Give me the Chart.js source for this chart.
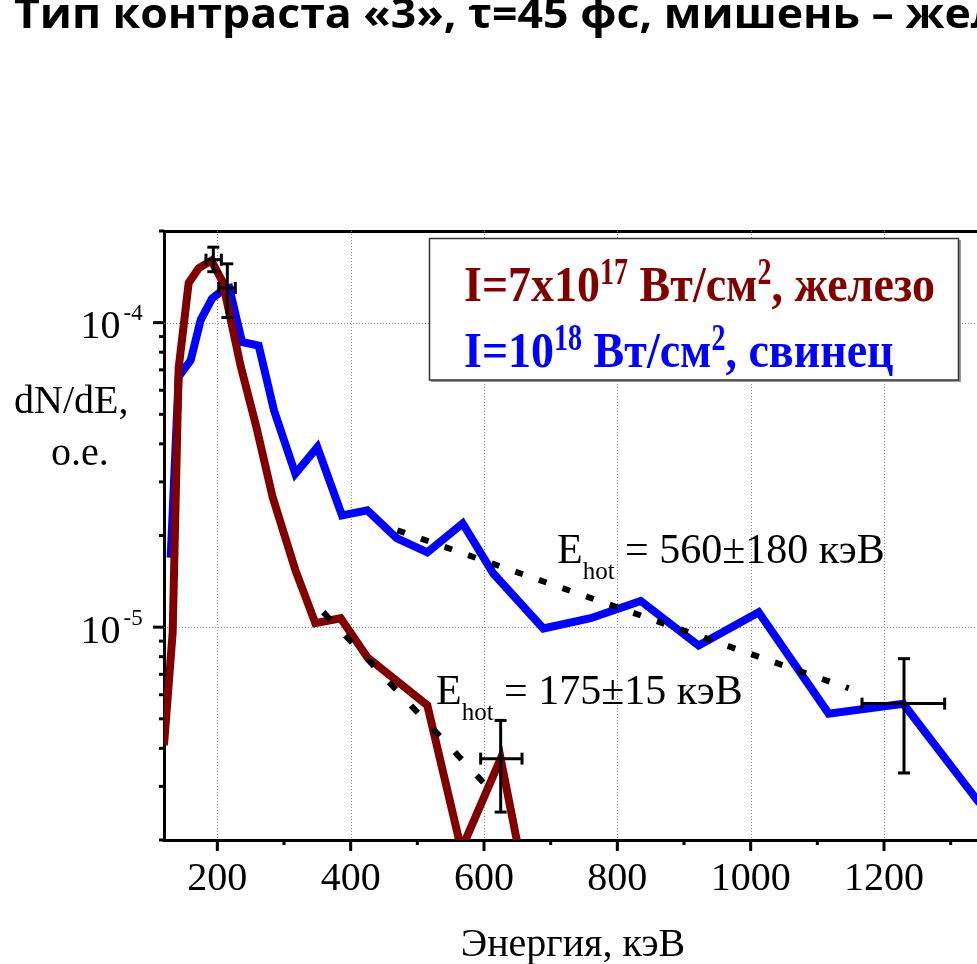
<!DOCTYPE html>
<html>
<head>
<meta charset="utf-8">
<script src="https://cdn.jsdelivr.net/npm/chart.js@4.4.1/dist/chart.umd.min.js"></script>
<style>
  html, body { margin: 0; padding: 0; background: #fff; overflow: hidden; }
  #wrap { width: 1100px; height: 964px; }
</style>
</head>
<body>
<div id="wrap"><canvas id="spectrumChart" width="1100" height="964"></canvas></div>
<script>
// Electron spectra, dN/dE (arb. units) vs energy (keV)
const chartTitle = "Тип контраста «3», τ=45 фс, мишень – железо";

// iron target, I = 7x10^17 W/cm^2
const energyFe = [120, 133, 142, 157, 172, 191, 208, 235, 259, 283, 317, 347, 385, 425, 515, 566, 625, 680];
const dndeFe = [4.1e-6, 9.6e-6, 7.1e-5, 1.35e-4, 1.51e-4, 1.60e-4, 1.36e-4, 7.2e-5, 4.5e-5, 2.67e-5, 1.54e-5, 1.03e-5, 1.07e-5, 7.96e-6, 5.54e-6, 1.86e-6, 3.70e-6, 9.1e-7];

// lead target, I = 10^18 W/cm^2
const energyPb = [130, 142, 160, 175, 192, 208, 218, 237, 262, 285, 317, 350, 387, 425, 469, 515, 568, 614, 689, 760, 835, 922, 1012, 1117, 1229, 1340, 1420];
const dndePb = [1.69e-5, 6.65e-5, 7.52e-5, 1.02e-4, 1.20e-4, 1.28e-4, 1.30e-4, 8.64e-5, 8.41e-5, 5.15e-5, 3.19e-5, 3.90e-5, 2.33e-5, 2.42e-5, 1.96e-5, 1.76e-5, 2.19e-5, 1.50e-5, 9.9e-6, 1.07e-5, 1.22e-5, 8.7e-6, 1.12e-5, 5.2e-6, 5.6e-6, 2.7e-6, 1.7e-6];

// exponential fits (straight on log axis): two end points each
const fitFeEnergy = [359, 599];
const fitFeValue = [1.12e-5, 3.09e-6];
const fitPbEnergy = [470, 1147];
const fitPbValue = [2.08e-5, 6.3e-6];

// error bars: red peak, blue peak, red tail, blue tail
const errEnergy = [194, 215, 625, 1230];
const errValue = [1.61e-4, 1.30e-4, 3.70e-6, 5.61e-6];
const errEnergyLow = [183, 202, 595, 1167];
const errEnergyHigh = [206, 227, 657, 1291];
const errValueLow = [1.47e-4, 1.04e-4, 2.47e-6, 3.32e-6];
const errValueHigh = [1.77e-4, 1.56e-4, 4.94e-6, 7.88e-6];
const errColor = ["#000", "#000", "#000", "#000"];

const seriesLabels = ["I=7x10^{17} Вт/см^{2}, железо", "I=10^{18} Вт/см^{2}, свинец"];
const seriesColors = ["#800000", "#0000ff"];
const fitLabels = ["E_{hot} = 175±15 кэВ", "E_{hot} = 560±180 кэВ"];

const xTickLabels = [200, 400, 600, 800, 1000, 1200];
const yTickValues = [1e-5, 1e-4];
const yTickLabels = ["10^{-5}", "10^{-4}"];
const xTitle = "Энергия, кэВ";
const yTitle = ["dN/dE,", "o.e."];

const SERIF = "'Liberation Serif', 'Times New Roman', serif";

function toPoints(xs, ys) {
  return xs.map((x, i) => ({ x: x, y: ys[i] }));
}

// split "a^{b}c_{d}" into normal / sup / sub runs
function richRuns(str) {
  const out = [];
  const re = /([\^_])\{([^}]*)\}/g;
  let last = 0, m;
  while ((m = re.exec(str))) {
    if (m.index > last) out.push({ t: str.slice(last, m.index), k: "n" });
    out.push({ t: m[2], k: m[1] === "^" ? "sup" : "sub" });
    last = re.lastIndex;
  }
  if (last < str.length) out.push({ t: str.slice(last), k: "n" });
  return out;
}

function drawRich(ctx, str, x, y, st) {
  ctx.textAlign = "left";
  ctx.textBaseline = "alphabetic";
  richRuns(str).forEach(r => {
    const o = r.k === "n" ? st : st[r.k];
    ctx.font = `${st.weight || "normal"} ${o.size}px ${SERIF}`;
    x += o.dx || 0;
    ctx.save();
    ctx.translate(x, y + (o.dy || 0));
    ctx.scale(1, o.sy || 1);
    ctx.fillText(r.t, 0, 0);
    ctx.restore();
    x += ctx.measureText(r.t).width;
  });
  return x;
}

function seg(ctx, x1, y1, x2, y2) {
  ctx.beginPath();
  ctx.moveTo(x1, y1);
  ctx.lineTo(x2, y2);
  ctx.stroke();
}

const decorations = {
  id: "decorations",
  beforeDatasetsDraw(chart) {
    const { ctx, chartArea: a, scales: { x, y } } = chart;
    ctx.save();
    ctx.strokeStyle = "#8a8a8a";
    ctx.lineWidth = 1;
    ctx.setLineDash([1, 2]);
    for (let v = 200; v < x.max; v += 200) {
      const px = Math.round(x.getPixelForValue(v)) + 0.5;
      seg(ctx, px, a.top, px, a.bottom);
    }
    yTickValues.forEach(v => {
      const py = Math.round(y.getPixelForValue(v)) + 0.5;
      seg(ctx, a.left, py, a.right, py);
    });
    ctx.restore();
  },
  afterDatasetsDraw(chart) {
    const { ctx, chartArea: a, scales: { x, y } } = chart;
    ctx.save();

    // error bars
    ctx.lineWidth = 3;
    ctx.setLineDash([]);
    errEnergy.forEach((e, i) => {
      ctx.strokeStyle = errColor[i];
      const cx = x.getPixelForValue(e);
      const cy = y.getPixelForValue(errValue[i]);
      const x1 = x.getPixelForValue(errEnergyLow[i]);
      const x2 = x.getPixelForValue(errEnergyHigh[i]);
      const y1 = y.getPixelForValue(errValueHigh[i]);
      const y2 = y.getPixelForValue(errValueLow[i]);
      seg(ctx, cx, y1, cx, y2);
      seg(ctx, x1, cy, x2, cy);
      seg(ctx, cx - 6, y1, cx + 6, y1);
      seg(ctx, cx - 6, y2, cx + 6, y2);
      seg(ctx, x1, cy - 6, x1, cy + 6);
      seg(ctx, x2, cy - 6, x2, cy + 6);
    });

    // legend box
    ctx.fillStyle = "#9a9a9a";
    ctx.fillRect(431, 240, 530, 142);
    ctx.fillStyle = "#fff";
    ctx.fillRect(429.5, 238.5, 529, 141.5);
    ctx.strokeStyle = "#333";
    ctx.lineWidth = 1.5;
    ctx.strokeRect(429.5, 238.5, 529, 141.5);

    const legendStyle = { weight: "bold", size: 46, sy: 1.1, sup: { size: 28, dy: -17, sy: 1.35 } };
    ctx.fillStyle = seriesColors[0];
    drawRich(ctx, seriesLabels[0], 464, 300.5, legendStyle);
    ctx.fillStyle = seriesColors[1];
    drawRich(ctx, seriesLabels[1], 464, 367, legendStyle);

    // fit annotations
    const annStyle = { size: 42, sub: { size: 25, dy: 16 } };
    ctx.fillStyle = "#000";
    drawRich(ctx, fitLabels[0], 436, 704, annStyle);
    drawRich(ctx, fitLabels[1], 557, 563, annStyle);

    ctx.restore();
  },
  afterDraw(chart) {
    const { ctx, chartArea: a, scales: { x, y } } = chart;
    ctx.save();
    ctx.strokeStyle = "#000";
    ctx.lineWidth = 3;
    ctx.setLineDash([]);

    // x tick marks (outward)
    for (let v = 200; v < x.max; v += 100) {
      const px = x.getPixelForValue(v);
      const len = v % 200 === 0 ? 11 : 5;
      seg(ctx, px, a.bottom, px, a.bottom + len);
    }
    // y tick marks, log minor ticks
    for (let d = -6; d <= -4; d++) {
      for (let m = 1; m <= 9; m++) {
        const v = m * Math.pow(10, d);
        if (v < y.min * 0.999 || v > y.max * 1.001) continue;
        const py = y.getPixelForValue(v);
        const len = m === 1 ? 11 : 5;
        seg(ctx, a.left - len, py, a.left, py);
      }
    }

    ctx.fillStyle = "#000";
    // x tick labels
    ctx.font = `40px ${SERIF}`;
    ctx.textAlign = "center";
    ctx.textBaseline = "alphabetic";
    xTickLabels.forEach(v => ctx.fillText(String(v), x.getPixelForValue(v), 890));

    // y tick labels with superscript
    const tickStyle = { size: 40, sup: { size: 23, dy: -18, dx: 3 } };
    yTickValues.forEach((v, i) => {
      const py = y.getPixelForValue(v);
      drawRich(ctx, yTickLabels[i], 80.5, py + 15.5, tickStyle);
    });

    // axis titles
    ctx.font = `40px ${SERIF}`;
    ctx.textAlign = "center";
    ctx.fillText(xTitle, 573, 956);
    ctx.textAlign = "left";
    ctx.fillText(yTitle[0], 14, 413);
    ctx.fillText(yTitle[1], 51, 465);

    // page title (runs off the right edge, as in the original slide)
    ctx.font = "bold 41px 'Open Sans', 'Noto Sans', sans-serif";
    const part = "Тип контраста «3», τ=45 фс, мишень";
    const sx = 846 / ctx.measureText(part).width;
    ctx.save();
    ctx.translate(14, 28);
    ctx.scale(sx, 1);
    ctx.fillText(chartTitle, 0, 0);
    ctx.restore();

    ctx.restore();
  }
};

const ctx = document.getElementById("spectrumChart").getContext("2d");
new Chart(ctx, {
  type: "scatter",
  data: {
    datasets: [
      {
        label: "fit Fe",
        data: toPoints(fitFeEnergy, fitFeValue),
        showLine: true,
        borderColor: "#000",
        borderWidth: 6,
        borderDash: [10, 22],
        pointRadius: 0,
        clip: 0
      },
      {
        label: "fit Pb",
        data: toPoints(fitPbEnergy, fitPbValue),
        showLine: true,
        borderColor: "#000",
        borderWidth: 6,
        borderDash: [8, 17],
        pointRadius: 0,
        clip: 0
      },
      {
        label: seriesLabels[0],
        data: toPoints(energyFe, dndeFe),
        showLine: true,
        borderColor: seriesColors[0],
        borderWidth: 8,
        pointRadius: 0,
        clip: 0
      },
      {
        label: seriesLabels[1],
        data: toPoints(energyPb, dndePb),
        showLine: true,
        borderColor: seriesColors[1],
        borderWidth: 8,
        pointRadius: 0,
        clip: 0
      }
    ]
  },
  options: {
    responsive: false,
    animation: false,
    devicePixelRatio: 1,
    layout: { padding: { left: 164, top: 231, right: 16, bottom: 124 } },
    plugins: {
      legend: { display: false },
      tooltip: { enabled: false }
    },
    scales: {
      x: {
        type: "linear",
        position: "bottom",
        min: 120,
        max: 1500,
        grid: { display: false, drawTicks: false },
        ticks: { display: false },
        border: { display: true, width: 3, color: "#000" }
      },
      xTop: {
        type: "linear",
        position: "top",
        min: 120,
        max: 1500,
        grid: { display: false, drawTicks: false },
        ticks: { display: false },
        border: { display: true, width: 3, color: "#000" }
      },
      y: {
        type: "logarithmic",
        min: 2e-6,
        max: 2e-4,
        grid: { display: false, drawTicks: false },
        ticks: { display: false },
        border: { display: true, width: 3, color: "#000" }
      }
    }
  },
  plugins: [decorations]
});
</script>
</body>
</html>
